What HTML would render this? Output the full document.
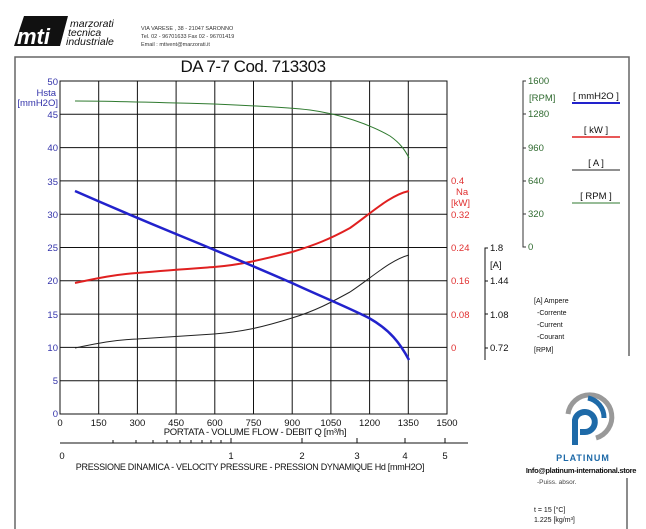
<!DOCTYPE html>
<html><head><meta charset="utf-8"><style>
body{margin:0;background:#fff;}
svg{display:block;font-family:"Liberation Sans",sans-serif;}
</style></head><body>
<svg width="646" height="529" viewBox="0 0 646 529" xmlns="http://www.w3.org/2000/svg">
<!-- logo -->
<polygon points="24,16 68,16 60,46 14,46" fill="#111"/>
<text x="17" y="44" font-size="22" font-weight="bold" font-style="italic" fill="#fff" font-family="Liberation Sans">mti</text>
<text x="70" y="27" font-size="10.5" font-style="italic" fill="#111">marzorati</text>
<text x="68" y="36" font-size="10.5" font-style="italic" fill="#111">tecnica</text>
<text x="66" y="45" font-size="10.5" font-style="italic" fill="#111">industriale</text>
<text x="141" y="30" font-size="5.5" fill="#333">VIA  VARESE , 38  -  21047  SARONNO</text>
<text x="141" y="38" font-size="5.5" fill="#333">Tel.  02 - 96701633   Fax  02 - 96701419</text>
<text x="141" y="46" font-size="5.5" fill="#333">Email   :   mtivent@marzorati.it</text>
<!-- frame -->
<polyline points="15,529 15,57 629,57 629,356" fill="none" stroke="#666" stroke-width="1.5"/>
<line x1="627" y1="478" x2="627" y2="529" stroke="#666" stroke-width="1.5"/>
<text x="253" y="72" font-size="17" text-anchor="middle" fill="#111" letter-spacing="-0.5">DA 7-7   Cod. 713303</text>
<!-- grid -->
<g stroke="#111" stroke-width="1">
<rect x="60" y="81" width="387" height="333" fill="none"/>
<line x1="98.7" y1="81" x2="98.7" y2="414"/><line x1="137.4" y1="81" x2="137.4" y2="414"/>
<line x1="176.1" y1="81" x2="176.1" y2="414"/><line x1="214.8" y1="81" x2="214.8" y2="414"/>
<line x1="253.5" y1="81" x2="253.5" y2="414"/><line x1="292.2" y1="81" x2="292.2" y2="414"/>
<line x1="330.9" y1="81" x2="330.9" y2="414"/><line x1="369.6" y1="81" x2="369.6" y2="414"/>
<line x1="408.3" y1="81" x2="408.3" y2="414"/>
<line x1="60" y1="114.3" x2="447" y2="114.3"/><line x1="60" y1="147.6" x2="447" y2="147.6"/>
<line x1="60" y1="180.9" x2="447" y2="180.9"/><line x1="60" y1="214.2" x2="447" y2="214.2"/>
<line x1="60" y1="247.5" x2="447" y2="247.5"/><line x1="60" y1="280.8" x2="447" y2="280.8"/>
<line x1="60" y1="314.1" x2="447" y2="314.1"/><line x1="60" y1="347.4" x2="447" y2="347.4"/>
<line x1="60" y1="380.7" x2="447" y2="380.7"/>
</g>
<g font-size="9.5" fill="#3333aa" text-anchor="end">
<text x="58" y="85">50</text><text x="58" y="118">45</text><text x="58" y="151">40</text><text x="58" y="185">35</text><text x="58" y="218">30</text><text x="58" y="251">25</text><text x="58" y="284">20</text><text x="58" y="318">15</text><text x="58" y="351">10</text><text x="58" y="384">5</text><text x="58" y="417">0</text>
<text x="56" y="96">Hsta</text><text x="58" y="106">[mmH2O]</text>
</g>
<g font-size="9.5" fill="#111" text-anchor="middle">
<text x="60" y="426">0</text><text x="98.7" y="426">150</text><text x="137.4" y="426">300</text><text x="176.1" y="426">450</text><text x="214.8" y="426">600</text><text x="253.5" y="426">750</text><text x="292.2" y="426">900</text><text x="330.9" y="426">1050</text><text x="369.6" y="426">1200</text><text x="408.3" y="426">1350</text><text x="447" y="426">1500</text>
<text x="255" y="435" letter-spacing="-0.3">PORTATA - VOLUME FLOW - DEBIT    Q [m³/h]</text>
</g>
<!-- Hd axis -->
<line x1="60" y1="443" x2="468" y2="443" stroke="#111"/>
<g stroke="#111">
<line x1="113" y1="440" x2="113" y2="443"/><line x1="136" y1="440" x2="136" y2="443"/><line x1="153" y1="440" x2="153" y2="443"/><line x1="167" y1="440" x2="167" y2="443"/><line x1="180" y1="440" x2="180" y2="443"/><line x1="191" y1="440" x2="191" y2="443"/><line x1="202" y1="440" x2="202" y2="443"/><line x1="211" y1="440" x2="211" y2="443"/><line x1="221" y1="440" x2="221" y2="443"/>
<line x1="231" y1="438" x2="231" y2="443"/><line x1="302" y1="438" x2="302" y2="443"/><line x1="357" y1="438" x2="357" y2="443"/><line x1="405" y1="438" x2="405" y2="443"/><line x1="445" y1="438" x2="445" y2="443"/>
</g>
<g font-size="9.5" fill="#111" text-anchor="middle">
<text x="62" y="459">0</text><text x="231" y="459">1</text><text x="302" y="459">2</text><text x="357" y="459">3</text><text x="405" y="459">4</text><text x="445" y="459">5</text>
<text x="250" y="470" font-size="9" letter-spacing="-0.3">PRESSIONE DINAMICA - VELOCITY PRESSURE - PRESSION DYNAMIQUE   Hd [mmH2O]</text>
</g>
<!-- curves -->
<path d="M75,101 C110,101 180,103 214,104 C260,106 292,108 310,110 C340,114 369,124 390,136 C400,143 405,150 409,158" fill="none" stroke="#2f7a2f" stroke-width="1"/>
<path d="M75,348 C90,345 110,340 137,339 C170,337 200,335 214,334 C240,332 260,328 292,318 C315,311 330,303 350,292 C370,279 390,260 409,255" fill="none" stroke="#222" stroke-width="1"/>
<path d="M75,283 C90,280 110,275 137,273 C170,270 200,268 214,267 C240,265 260,260 292,252 C315,245 330,239 350,228 C370,214 390,195 409,191" fill="none" stroke="#e02020" stroke-width="2"/>
<path d="M75,191 C100,202 130,215 176,234 C215,250 253,266 292,283 C320,296 345,306 369,318 C390,330 400,343 409,360" fill="none" stroke="#2222cc" stroke-width="2.5"/>
<!-- red axis -->
<g font-size="9.5" fill="#e03030">
<text x="451" y="184">0.4</text><text x="456" y="195">Na</text><text x="451" y="206">[kW]</text>
<text x="451" y="218">0.32</text><text x="451" y="251">0.24</text><text x="451" y="284">0.16</text><text x="451" y="318">0.08</text><text x="451" y="351">0</text>
</g>
<!-- A axis -->
<polyline points="488,248 485,248 485,360" fill="none" stroke="#111"/>
<g stroke="#111"><line x1="485" y1="281" x2="488" y2="281"/><line x1="485" y1="314" x2="488" y2="314"/><line x1="485" y1="348" x2="488" y2="348"/></g>
<g font-size="9.5" fill="#111">
<text x="490" y="251">1.8</text><text x="490" y="268">[A]</text><text x="490" y="284">1.44</text><text x="490" y="318">1.08</text><text x="490" y="351">0.72</text>
</g>
<g font-size="7" fill="#111">
<text x="534" y="303">[A] Ampere</text><text x="537" y="315">-Corrente</text><text x="537" y="327">-Current</text><text x="537" y="339">-Courant</text><text x="534" y="352">[RPM]</text>
</g>
<!-- RPM axis -->
<polyline points="526,81 523,81 523,247 526,247" fill="none" stroke="#333"/>
<g stroke="#333"><line x1="523" y1="114" x2="526" y2="114"/><line x1="523" y1="148" x2="526" y2="148"/><line x1="523" y1="181" x2="526" y2="181"/><line x1="523" y1="214" x2="526" y2="214"/></g>
<g font-size="9.5" fill="#2f6a2f">
<text x="528" y="84">1600</text><text x="529" y="101">[RPM]</text><text x="528" y="117">1280</text><text x="528" y="151">960</text><text x="528" y="184">640</text><text x="528" y="217">320</text><text x="528" y="250">0</text>
</g>
<!-- legend -->
<g font-size="9.5" fill="#111" text-anchor="middle">
<text x="596" y="99">[ mmH2O ]</text><text x="596" y="133">[ kW ]</text><text x="596" y="166">[ A ]</text><text x="596" y="199">[ RPM ]</text>
</g>
<line x1="572" y1="103" x2="620" y2="103" stroke="#2222cc" stroke-width="2"/>
<line x1="572" y1="137" x2="620" y2="137" stroke="#e02020" stroke-width="1.5"/>
<line x1="572" y1="170" x2="620" y2="170" stroke="#222" stroke-width="1"/>
<line x1="572" y1="203" x2="620" y2="203" stroke="#2f7a2f" stroke-width="1"/>
<!-- platinum logo -->
<path d="M568,414 A22,22 0 1 1 596,438" fill="none" stroke="#999" stroke-width="5"/>
<path d="M575,445 L575,420 A10,10 0 1 1 585,432 L580,432" fill="none" stroke="#1e6aa8" stroke-width="6"/>
<path d="M588,398 A20,20 0 0 1 604,418" fill="none" stroke="#1e6aa8" stroke-width="5"/>
<text x="583" y="461" font-size="9" font-weight="bold" fill="#1e6aa8" text-anchor="middle" letter-spacing="1">PLATINUM</text>
<text x="581" y="473" font-size="7.5" font-weight="bold" fill="#111" text-anchor="middle" letter-spacing="-0.3">Info@platinum-international.store</text>
<text x="537" y="484" font-size="6.5" fill="#444">-Puiss. absor.</text>
<text x="534" y="512" font-size="7" fill="#111">t = 15 [°C]</text>
<text x="534" y="522" font-size="7" fill="#111">1.225 [kg/m³]</text>
</svg>
</body></html>
